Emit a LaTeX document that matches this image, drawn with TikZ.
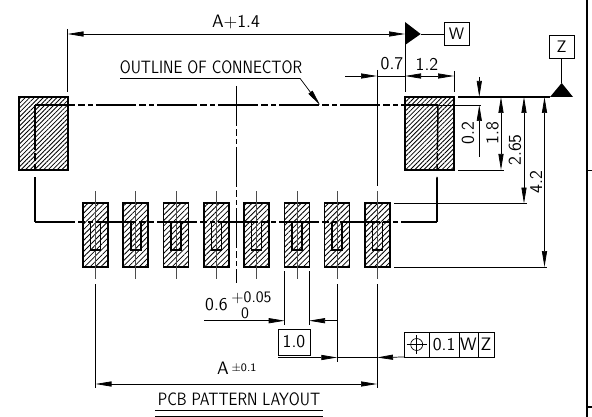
\documentclass[tikz,border=0pt]{standalone}
\usepackage{fontspec}
\setsansfont{Latin Modern Sans}[FakeStretch=0.85]
\newfontfamily\cadnum{Latin Modern Sans}
\usetikzlibrary{positioning}
\usetikzlibrary{arrows.meta}
\usetikzlibrary{patterns.meta}
\tikzset{x=0.75pt,y=-0.75pt,
    hatch/.style={
        draw,
        line width=1.2pt,
        inner sep=0pt,
        outer sep=0pt,
        pattern={Lines[angle=45,distance=#1,line width=0.62pt]},
        pattern color=black},
    bigpad/.style={hatch=2.4pt,minimum width=36.75pt,minimum height=54.75pt},
    smallpad/.style={hatch=2.9pt,minimum width=18.75pt,minimum height=48pt},
    outline/.style={line width=1.1pt},
    centre/.style={line width=1.1pt,dash pattern=on 30pt off 2.6pt on 5.25pt off 2.25pt on 3.4pt off 2.25pt},
    stub/.style={line width=1.1pt,dash pattern=on 33.75pt off 2.25pt on 6pt off 2.25pt on 3.75pt off 6pt},
    cline/.style={line width=0.5pt,black!70},
    ext/.style={line width=0.55pt},
    dim/.style={line width=0.55pt,>={Triangle[length=12pt,width=3.8pt]}},
    lab/.style={inner sep=0pt,font=\cadnum\fontsize{13.5}{14}\selectfont},
    txt/.style={inner sep=0pt,font=\sffamily\fontsize{13.4}{14}\selectfont},
    small/.style={inner sep=0pt,font=\cadnum\fontsize{12}{12}\selectfont},
    tiny/.style={inner sep=0pt,font=\cadnum\fontsize{8.5}{10}\selectfont},
    tag/.style={draw,line width=0.5pt,inner sep=0pt,outer sep=0pt,
        font=\cadnum\fontsize{12.5}{13}\selectfont},
    tol/.style={tag,minimum height=18.75pt,font=\cadnum\fontsize{13.5}{14}\selectfont}}

\begin{document}
\begin{tikzpicture}
    \useasboundingbox (0,0) rectangle (592,417);

    % pads
    \node[bigpad] (padl) at (43.5,133.5) {};
    \node[bigpad] (padr) at (429.5,133.5) {};
    \foreach \i in {1,...,8} {
        \pgfmathsetmacro\cx{95.5+40.27*(\i-1)}
        \node[smallpad] (pad\i) at (\cx,235) {};
        \coordinate (ct\i) at (\cx,191);
        \coordinate (cb\i) at (\cx,279);
        \coordinate (ua\i) at (\cx-5,222);
        \coordinate (ub\i) at (\cx-5,250);
        \coordinate (uc\i) at (\cx+5,250);
        \coordinate (ud\i) at (\cx+5,222);
        \draw[cline] (ct\i) -- (cb\i);
        \draw[outline] (ua\i) -- (ub\i) -- (uc\i) -- (ud\i);
    }

    % free ends
    \foreach \n/\x/\y in {
        ola/35/105, olb/438/105, olc/35/222, old/437/222, ole/437/178,
        cva/236.5/86, cvb/236.5/283,
        wa/67.5/29, wb/67.5/92, wc/405/92, wd/405/34, we/67.5/34, wf/420.7/34,
        wg/405/22, wh/405/45,
        da/345/76, db/377/76, dc/405/76, dd/454/76, de/377/70, df/377/186,
        dg/454/71, dh/454/92, di/405/70,
        za/458/97, zb/550/97, zc/573/97, zd/561.7/83, ze/561.7/58,
        ra/481/105, rb/438/105, rc/479.3/77, rd/479.3/97, re/479.3/157, rf/479.3/105,
        sa/501/97, sb/501/170, sc/458/170, sd/504/170,
        ta/524/97, tb/524/203.5, tc/394/203.5, td/527/203.5,
        ua/544.5/97, ub/544.5/267, uc/394/267, ud/547/267,
        la/300/78.3, lb/320/105, lc/120/78.3,
        ma/284.7/271, mb/284.7/325, mc/309/271, md/309/325,
        me/204/320.7, mf/284.7/320.7, mg/309/320.7, mh/338/320.7,
        na/337.3/284, nb/337.3/362, nc/278/357.5, nd/337.3/357.5, ne/377/357.5,
        fa/95.5/284, fb/95.5/388, fc/377/284, fd/377/388, fe/95.5/384, ff/377/384,
        ga/155/410.3, gb/323/410.3, gc/155/416.3, gd/323/416.3,
        ha/586.7/0, hb/586.7/417, hc/592/170.5, hd/586.7/170.5, he/592/407, hf/586.7/407} {
        \coordinate (\n) at (\x,\y);
    }

    % connector outline
    \draw[centre] (ola) -- (olb);
    \draw[centre] (olc) -- (old);
    \draw[stub] (ola) -- (olc);
    \draw[stub] (olb) -- (ole);
    \draw[outline] (ole) -- (old);
    \draw[centre,line width=0.55pt] (cva) -- (cvb);

    % top dimensions
    \node[lab] (aplus) at (236,22) {A+1.4};
    \draw[ext] (wa) -- (wb);
    \draw[ext] (wd) -- (wc);
    \draw[dim,<->] (we) -- (wd);
    \fill (wg) -- (wf) -- (wh) -- cycle;
    \node[tag,minimum width=18.75pt,minimum height=16.9pt] (boxw) at (456.5,34) {W};
    \draw[ext] (wf) -- (boxw);

    \node[lab] (seven) at (392,64) {0.7};
    \node[lab] (twelve) at (427,64) {1.2};
    \draw[dim,->] (da) -- (db);
    \draw[dim] (db) -- (dc);
    \draw[dim,<->] (dc) -- (dd);
    \draw[ext] (de) -- (df);
    \draw[ext] (dg) -- (dh);

    \node[txt] (outl) at (211,67) {OUTLINE OF CONNECTOR};
    \draw[ext] (lc) -- (la);
    \draw[dim,->] (la) -- (lb);

    % right dimensions
    \draw[outline,line width=0.9pt] (za) -- (zb);
    \fill (zb) -- (zd) -- (zc) -- cycle;
    \node[tag,minimum width=18.75pt,minimum height=16.9pt] (boxz) at (561.7,47) {Z};
    \draw[ext] (zd) -- (ze);
    \draw[ext] (rb) -- (ra);
    \draw[dim,->] (rc) -- (rd);
    \draw[dim,->] (re) -- (rf);
    \node[lab,rotate=90] (ztwo) at (468,133) {0.2};
    \draw[ext] (sc) -- (sd);
    \draw[dim,<->] (sa) -- (sb);
    \node[lab,rotate=90] (oneeight) at (492.5,133) {1.8};
    \draw[ext] (tc) -- (td);
    \draw[dim,<->] (ta) -- (tb);
    \node[lab,rotate=90] (twosix) at (515,150) {2.65};
    \draw[ext] (uc) -- (ud);
    \draw[dim,<->] (ua) -- (ub);
    \node[lab,rotate=90] (fourtwo) at (536,182) {4.2};

    % bottom dimensions
    \draw[ext] (ma) -- (mb);
    \draw[ext] (mc) -- (md);
    \draw[dim,->] (me) -- (mf);
    \draw[dim,<-] (mg) -- (mh);
    \node[lab] (six) at (216.5,305) {0.6};
    \node[small] (plus) at (251.5,298) {+0.05};
    \node[small] (zero) at (245,313) {0};
    \node[tag,minimum width=24pt,minimum height=19.5pt,font=\cadnum\fontsize{13.5}{14}\selectfont] (pitch) at (294,342) {1.0};

    \draw[ext] (fa) -- (fb);
    \draw[ext] (fc) -- (fd);
    \draw[ext] (na) -- (nb);
    \draw[dim,->] (nc) -- (nd);
    \draw[dim,<->] (fe) -- (ff);
    \node[lab] (alab) at (223,368) {A};
    \node[tiny] (atol) at (244,368) {\textpm 0.1};

    \node[txt] (title) at (239,399) {PCB PATTERN LAYOUT};
    \draw[ext] (ga) -- (gb);
    \draw[ext] (gc) -- (gd);

    % tolerance frame
    \node[tol,minimum width=18.75pt] (fcfa) at (416.7,344.5) {};
    \node[tol,minimum width=22.3pt,right=0pt of fcfa] (fcfb) {0.1};
    \node[tol,minimum width=14.25pt,right=0pt of fcfb] (fcfc) {W};
    \node[tol,minimum width=12pt,right=0pt of fcfc] (fcfd) {Z};
    \node[circle,draw,line width=0.5pt,minimum size=9pt,inner sep=0pt] (geo) at (fcfa) {};
    \draw[ext,line width=0.45pt] ([xshift=-7.5pt]geo.center) -- ([xshift=7.5pt]geo.center);
    \draw[ext,line width=0.45pt] ([yshift=7pt]geo.center) -- ([yshift=-7pt]geo.center);
    \draw[dim,->] (fcfa.south west) -- (ne);
    \draw[ext] (ne) -- (nd);

    % frame
    \draw[line width=1.3pt] (ha) -- (hb);
    \draw[line width=1pt] (hd) -- (hc);
    \draw[line width=1pt] (hf) -- (he);
\end{tikzpicture}
\end{document}
